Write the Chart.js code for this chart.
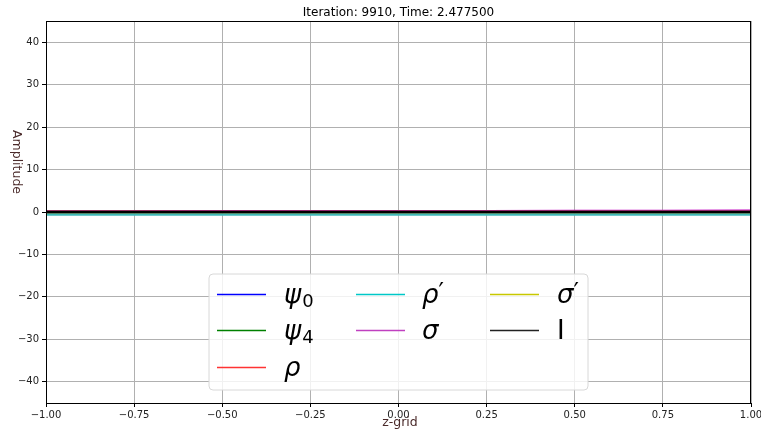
<!DOCTYPE html>
<html>
<head>
<meta charset="utf-8">
<script src="https://cdn.jsdelivr.net/npm/chart.js@4"></script>
<style>
  html, body { margin: 0; padding: 0; background: #fff; }
  canvas { display: block; }
</style>
</head>
<body>
<canvas id="ampChart" width="761" height="430"></canvas>
<script>
// z-grid sample points and series values
const zGrid = [-1, -0.75, -0.5, -0.25, 0, 0.25, 0.5, 0.75, 1];
const psi0 = [0, 0, 0, 0, 0, 0, 0, 0, 0];
const psi4 = [0, 0, 0, 0, 0, 0, 0, 0, 0];
const rho = [0.1, 0.08, 0.06, 0.05, 0.05, 0.05, 0.05, 0.05, 0.05];
const rhoPrime = [-0.6, -0.6, -0.6, -0.6, -0.6, -0.6, -0.6, -0.6, -0.6];
const sigma = [0.15, 0.15, 0.16, 0.17, 0.18, 0.2, 0.22, 0.25, 0.28];
const sigmaPrime = [0, 0, 0, 0, 0, 0, 0, 0, 0];
const identity = [0, 0, 0, 0, 0, 0, 0, 0, 0];

const xTicks = [-1, -0.75, -0.5, -0.25, 0, 0.25, 0.5, 0.75, 1];
const yTicks = [-40, -30, -20, -10, 0, 10, 20, 30, 40];

const seriesNames = ["ψ0", "ψ4", "ρ", "ρ′", "σ", "σ′", "I"];
const seriesColors = ["#0000ff", "#008000", "#ff0000", "#3fb8b8", "#bf00bf", "#bfbf00", "#000000"];
const legendColors = ["#0000ff", "#008000", "#ff3333", "#00c8c8", "#c040c0", "#c8c800", "#222222"];
// legend text pieces: base glyph, subscript, superscript, italic?
const legendBase = ["ψ", "ψ", "ρ", "ρ", "σ", "σ", "I"];
const legendSub = ["0", "4", "", "", "", "", ""];
const legendSup = ["", "", "", "′", "", "′", ""];
const legendItalic = [true, true, true, true, true, true, false];

const seriesValues = [psi0, psi4, rho, rhoPrime, sigma, sigmaPrime, identity];

function fmtMinus(v, digits) {
  const s = Math.abs(v).toFixed(digits);
  return v < 0 ? "\u2212" + s : s;
}

const datasets = seriesNames.map((name, i) => ({
  label: name,
  data: zGrid.map((z, k) => ({ x: z, y: seriesValues[i][k] })),
  borderColor: seriesColors[i],
  backgroundColor: seriesColors[i],
  borderWidth: 2.4,
  pointRadius: 0,
  tension: 0,
  order: seriesNames.length - i, // series sau vẽ đè lên series trước
}));

const FONT = "'DejaVu Sans', sans-serif";

/**
 * Khung, tiêu đề, nhãn trục và chú thích vẽ tay cho giống matplotlib.
 */
const decorPlugin = {
  id: "decor",
  afterDraw(chart) {
    const { ctx, chartArea: a } = chart;
    ctx.save();

    // frame
    ctx.strokeStyle = "#000";
    ctx.lineWidth = 1;
    ctx.strokeRect(a.left + 0.5, a.top + 0.5, a.right - a.left - 1, a.bottom - a.top);

    // title
    ctx.fillStyle = "#000";
    ctx.font = "12px " + FONT;
    ctx.textAlign = "center";
    ctx.textBaseline = "alphabetic";
    ctx.fillText("Iteration: 9910, Time: 2.477500", (a.left + a.right) / 2, 16);

    // x label
    ctx.fillStyle = "#4a2a2a";
    ctx.font = "12.5px " + FONT;
    ctx.fillText("z-grid", 400, 426);

    // y label rotated clockwise
    ctx.save();
    ctx.translate(16, 162);
    ctx.rotate(Math.PI / 2);
    ctx.textAlign = "center";
    ctx.textBaseline = "middle";
    ctx.fillText("Amplitude", 0, 0);
    ctx.restore();

    // legend box
    const bx = 209, by = 274, bw = 379, bh = 116, r = 4;
    ctx.beginPath();
    ctx.moveTo(bx + r, by);
    ctx.arcTo(bx + bw, by, bx + bw, by + bh, r);
    ctx.arcTo(bx + bw, by + bh, bx, by + bh, r);
    ctx.arcTo(bx, by + bh, bx, by, r);
    ctx.arcTo(bx, by, bx + bw, by, r);
    ctx.closePath();
    ctx.fillStyle = "rgba(255,255,255,0.82)";
    ctx.fill();
    ctx.strokeStyle = "#d8d8d8";
    ctx.stroke();

    const colLine = [217, 356, 490];
    const colText = [284, 422, 557];
    const rows = [294, 330, 367];
    const layout = [[0, 0], [0, 1], [0, 2], [1, 0], [1, 1], [2, 0], [2, 1]];
    layout.forEach(([c, rIdx], i) => {
      const y = rows[rIdx];
      ctx.strokeStyle = legendColors[i];
      ctx.lineWidth = 1.5;
      ctx.beginPath();
      ctx.moveTo(colLine[c], y + 0.5);
      ctx.lineTo(colLine[c] + 49, y + 0.5);
      ctx.stroke();

      ctx.fillStyle = "#000";
      ctx.textAlign = "left";
      ctx.textBaseline = "alphabetic";
      ctx.font = (legendItalic[i] ? "oblique " : "") + "26px " + FONT;
      const base = legendBase[i];
      let x = colText[c];
      ctx.fillText(base, x, y + 9);
      x += ctx.measureText(base).width;
      if (legendSub[i]) {
        ctx.font = "18px " + FONT;
        ctx.fillText(legendSub[i], x + 1, y + 13);
      }
      if (legendSup[i]) {
        ctx.font = "24px " + FONT;
        ctx.fillText(legendSup[i], x, y + 6);
      }
    });

    ctx.restore();
  },
};

const ctx = document.getElementById("ampChart").getContext("2d");
new Chart(ctx, {
  type: "line",
  data: { datasets: datasets },
  plugins: [decorPlugin],
  options: {
    responsive: false,
    animation: false,
    layout: { padding: { top: 21, right: 0, left: 0, bottom: 0 } },
    plugins: {
      legend: { display: false },
      title: { display: false },
      tooltip: { enabled: false },
    },
    scales: {
      x: {
        type: "linear",
        min: -1,
        max: 1,
        afterBuildTicks: (s) => { s.ticks = xTicks.map((v) => ({ value: v })); },
        afterFit: (s) => { s.height = 27; s.paddingLeft = 0; s.paddingRight = 10; },
        ticks: {
          color: "#222",
          font: { family: FONT, size: 10 },
          padding: 2,
          maxRotation: 0,
          autoSkip: false,
          callback: (v) => fmtMinus(v, 2),
        },
        grid: { color: "#b0b0b0", tickColor: "#000", tickLength: 4, lineWidth: 1 },
        border: { color: "#000", width: 1 },
      },
      y: {
        min: -45,
        max: 45,
        afterBuildTicks: (s) => { s.ticks = yTicks.map((v) => ({ value: v })); },
        afterFit: (s) => { s.width = 46; },
        ticks: {
          color: "#222",
          font: { family: FONT, size: 10 },
          padding: 3,
          autoSkip: false,
          callback: (v) => fmtMinus(v, 0),
        },
        grid: { color: "#b0b0b0", tickColor: "#000", tickLength: 4, lineWidth: 1 },
        border: { color: "#000", width: 1 },
      },
    },
  },
});
</script>
</body>
</html>
